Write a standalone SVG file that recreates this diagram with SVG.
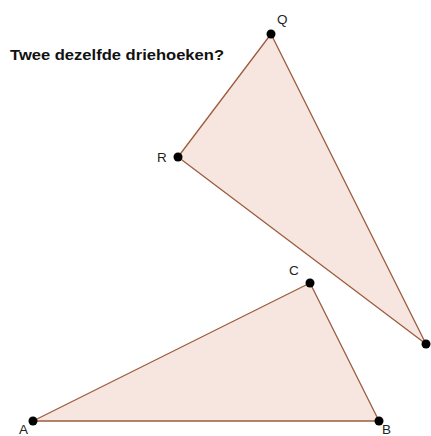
<svg xmlns="http://www.w3.org/2000/svg" width="431" height="436" viewBox="0 0 431 436">
<style>
.tri{fill:#f6e6df;stroke:#9c5c3e;stroke-width:1.3;stroke-linejoin:round}
.pt{fill:#000}
.lbl{font-family:"Liberation Sans",Arial,sans-serif;font-size:13.5px;fill:#222}
.title{font-family:"Liberation Sans",Arial,sans-serif;font-size:14.5px;font-weight:bold;fill:#111}
</style>
<rect width="431" height="436" fill="#fff"/>
<text class="title" x="10" y="60" textLength="214" lengthAdjust="spacingAndGlyphs">Twee dezelfde driehoeken?</text>
<g id="connectors">
<polygon id="triQR" class="tri" points="271,34 178,157 426,344"/>
<polygon id="triABC" class="tri" points="33,421 379,421 310,283"/>
</g>
<g id="Q"><circle class="pt" cx="271" cy="34" r="4.5"/><text class="lbl" x="277" y="24">Q</text></g>
<g id="R"><circle class="pt" cx="178" cy="157" r="4.5"/><text class="lbl" x="157" y="162">R</text></g>
<g id="P"><circle class="pt" cx="426" cy="344" r="4.5"/></g>
<g id="C"><circle class="pt" cx="310" cy="283" r="4.5"/><text class="lbl" x="289" y="275">C</text></g>
<g id="A"><circle class="pt" cx="33" cy="421" r="4.5"/><text class="lbl" x="19" y="433.5">A</text></g>
<g id="B"><circle class="pt" cx="379" cy="421" r="4.5"/><text class="lbl" x="382" y="433.5">B</text></g>
</svg>
